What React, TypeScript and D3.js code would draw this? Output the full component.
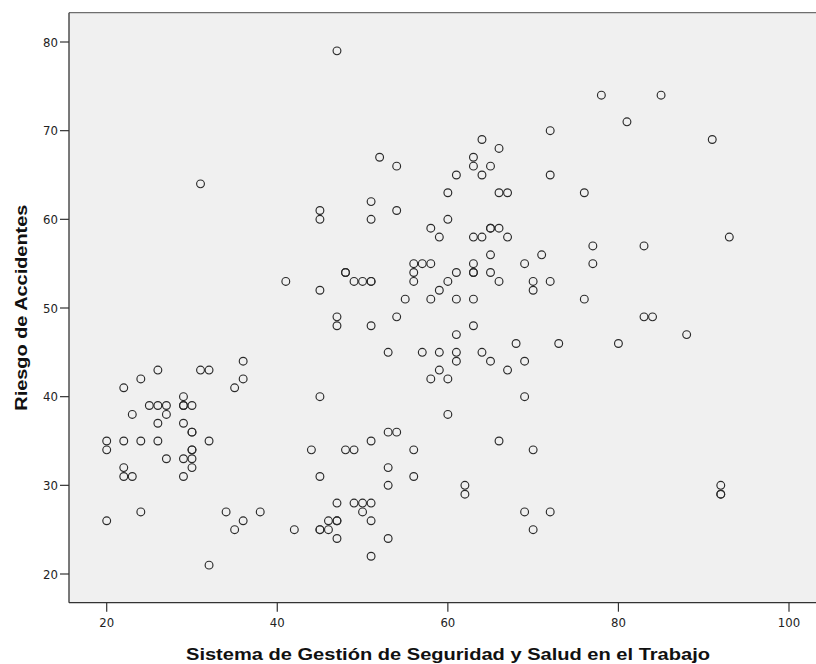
import React from "react";
import * as d3 from "d3";

// Sistema de Gestión de Seguridad y Salud en el Trabajo (x)
const sgsst: number[] = [
  47, 78, 85, 81, 72, 91, 64, 66, 52, 63, 54, 63, 65, 61, 64, 72, 31, 60, 66, 67,
  76, 51, 45, 54, 45, 51, 60, 58, 65, 65, 66, 59, 63, 64, 67, 93, 77, 83, 65, 71,
  56, 57, 58, 63, 69, 77, 48, 48, 56, 61, 63, 63, 65, 41, 49, 50, 51, 51, 56, 60,
  66, 70, 72, 45, 59, 70, 55, 58, 61, 63, 76, 47, 54, 83, 84, 47, 51, 63, 61, 88,
  68, 73, 80, 53, 57, 59, 61, 64, 36, 61, 65, 69, 26, 31, 32, 59, 67, 24, 36, 58,
  60, 22, 35, 29, 45, 69, 25, 26, 27, 29, 29, 30, 23, 27, 60, 26, 29, 30, 30, 53,
  54, 20, 22, 24, 26, 32, 51, 66, 20, 30, 30, 44, 48, 49, 56, 70, 27, 29, 30, 22,
  30, 53, 22, 23, 29, 45, 56, 53, 62, 92, 62, 92, 92, 47, 49, 50, 51, 24, 34, 38,
  50, 69, 72, 20, 36, 46, 47, 47, 51, 35, 42, 45, 45, 46, 70, 47, 53, 51, 32,
];

// Riesgo de Accidentes (y)
const riesgo: number[] = [
  79, 74, 74, 71, 70, 69, 69, 68, 67, 67, 66, 66, 66, 65, 65, 65, 64, 63, 63, 63,
  63, 62, 61, 61, 60, 60, 60, 59, 59, 59, 59, 58, 58, 58, 58, 58, 57, 57, 56, 56,
  55, 55, 55, 55, 55, 55, 54, 54, 54, 54, 54, 54, 54, 53, 53, 53, 53, 53, 53, 53,
  53, 53, 53, 52, 52, 52, 51, 51, 51, 51, 51, 49, 49, 49, 49, 48, 48, 48, 47, 47,
  46, 46, 46, 45, 45, 45, 45, 45, 44, 44, 44, 44, 43, 43, 43, 43, 43, 42, 42, 42,
  42, 41, 41, 40, 40, 40, 39, 39, 39, 39, 39, 39, 38, 38, 38, 37, 37, 36, 36, 36,
  36, 35, 35, 35, 35, 35, 35, 35, 34, 34, 34, 34, 34, 34, 34, 34, 33, 33, 33, 32,
  32, 32, 31, 31, 31, 31, 31, 30, 30, 30, 29, 29, 29, 28, 28, 28, 28, 27, 27, 27,
  27, 27, 27, 26, 26, 26, 26, 26, 26, 25, 25, 25, 25, 25, 25, 24, 24, 22, 21,
];

const xTicks: number[] = [20, 40, 60, 80, 100];
const yTicks: number[] = [20, 30, 40, 50, 60, 70, 80];

const xTitle = "Sistema de Gestión de Seguridad y Salud en el Trabajo";
const yTitle = "Riesgo de Accidentes";

const W = 816;
const H = 664;
const plotLeft = 69;
const plotTop = 12.7;
const plotBottom = 602.7;
const plotRight = 828;

const tickFont = "'Liberation Sans Narrow', 'Arial Narrow', 'DejaVu Sans Condensed', sans-serif";
const titleFont = "'Liberation Sans', Arial, sans-serif";

export default function App() {
  const x = d3.scaleLinear().domain([20, 100]).range([106.7, 789]);
  const y = d3.scaleLinear().domain([20, 80]).range([574, 42]);
  const pts = sgsst.map((v, i) => ({ x: v, y: riesgo[i] }));

  return (
    <svg
      width={W}
      height={H}
      viewBox={`0 0 ${W} ${H}`}
      style={{ position: "absolute", left: 0, top: 0, background: "#ffffff" }}
    >
      <rect x={0} y={0} width={W} height={H} fill="#ffffff" />
      <rect
        x={plotLeft}
        y={plotTop}
        width={plotRight - plotLeft}
        height={plotBottom - plotTop}
        fill="#f0f0f0"
      />
      {/* top border */}
      <line x1={plotLeft} x2={plotRight} y1={plotTop} y2={plotTop} stroke="#6e6e6e" strokeWidth={1.3} />
      {/* left axis */}
      <line x1={plotLeft} x2={plotLeft} y1={plotTop} y2={plotBottom} stroke="#333" strokeWidth={1.3} />
      {/* bottom axis */}
      <line x1={plotLeft} x2={plotRight} y1={plotBottom} y2={plotBottom} stroke="#333" strokeWidth={1.3} />

      {yTicks.map((t) => (
        <g key={`y${t}`}>
          <line x1={plotLeft - 9} x2={plotLeft} y1={y(t)} y2={y(t)} stroke="#333" strokeWidth={1.2} />
          <text
            x={plotLeft - 11}
            y={y(t)}
            dy="0.35em"
            textAnchor="end"
            fontFamily={tickFont}
            fontSize={13}
            fill="#222"
          >
            {t}
          </text>
        </g>
      ))}

      {xTicks.map((t) => (
        <g key={`x${t}`}>
          <line x1={x(t)} x2={x(t)} y1={plotBottom} y2={plotBottom + 9} stroke="#333" strokeWidth={1.2} />
          <text
            x={x(t)}
            y={622}
            dy="0.35em"
            textAnchor="middle"
            fontFamily={tickFont}
            fontSize={13}
            fill="#222"
          >
            {t}
          </text>
        </g>
      ))}

      {pts.map((p, i) => (
        <circle
          key={i}
          cx={x(p.x)}
          cy={y(p.y)}
          r={3.9}
          fill="none"
          stroke="#2a2a2a"
          strokeWidth={1.15}
        />
      ))}

      <text
        x={448}
        y={654}
        dy="0.35em"
        textAnchor="middle"
        fontFamily={titleFont}
        fontWeight="bold"
        fontSize={16.5}
        fill="#111"
        textLength={524}
        lengthAdjust="spacingAndGlyphs"
      >
        {xTitle}
      </text>
      <text
        transform={`translate(21, ${(plotTop + plotBottom) / 2}) rotate(-90)`}
        dy="0.35em"
        textAnchor="middle"
        fontFamily={titleFont}
        fontWeight="bold"
        fontSize={16.5}
        fill="#111"
        textLength={206}
        lengthAdjust="spacingAndGlyphs"
      >
        {yTitle}
      </text>
    </svg>
  );
}
